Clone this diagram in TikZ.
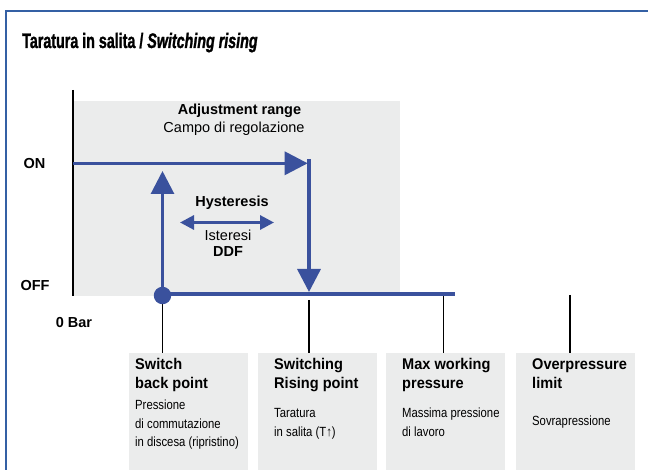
\documentclass[tikz,border=0pt]{standalone}
\usepackage{fontspec}
\setmainfont{Liberation Sans}
\newfontfamily\titlefont[FakeStretch=0.68,FakeBold=1.2,ItalicFont={Liberation Sans Bold Italic}]{Liberation Sans Bold}
\newfontfamily\headfont[FakeStretch=0.94]{Liberation Sans}
\newfontfamily\condfont[FakeStretch=0.85]{Liberation Sans}
\usetikzlibrary{arrows.meta}
\definecolor{lineblue}{RGB}{58,81,157}
\definecolor{frameblue}{RGB}{52,96,164}
\definecolor{boxgray}{RGB}{235,236,236}
\tikzset{
  titletext/.style={anchor=base west, inner sep=0pt, font=\titlefont\fontsize{21}{25}\selectfont},
  chartbold/.style={anchor=base, inner sep=0pt, font=\bfseries\fontsize{14.5}{17}\selectfont},
  chartreg/.style={anchor=base, inner sep=0pt, font=\fontsize{14.5}{17}\selectfont},
  boxhead/.style={anchor=base west, inner sep=0pt, font=\headfont\bfseries\fontsize{15.5}{18}\selectfont},
  boxtext/.style={anchor=base west, inner sep=0pt, font=\condfont\fontsize{13.3}{16}\selectfont},
  infobox/.style={anchor=north west, fill=boxgray, draw=none, inner sep=0pt, minimum width=119pt, minimum height=117pt},
  bigline/.style={draw=lineblue, line width=3.3pt},
  bigtip/.style={-{Triangle[length=23pt,width=23pt]}},
  tick/.style={draw=black, line width=1.1pt},
}
\begin{document}
\begin{tikzpicture}[x=1pt,y=-1pt]
\useasboundingbox (0,0) rectangle (648,470);
% frame
\draw[frameblue, line width=2pt] (5.5,470) -- (5.5,11) -- (648,11);
% title
\node[titletext] (title) at (22,48) {Taratura in salita / \itshape Switching rising};
% adjustment range area
\fill[boxgray] (73,101) rectangle (400,296);
\draw[black, line width=1.2pt] (73,90) -- (73,296);
\node[chartbold] (adj) at (239.5,115) {Adjustment range};
\node[chartreg] (campo) at (234,133) {Campo di regolazione};
% axis labels
\node[chartbold] (on) at (34.5,168.3) {ON};
\node[chartbold] (off) at (35,291) {OFF};
\node[chartbold] (zero) at (74,327) {0 Bar};
% bottom boxes
\node[infobox] (b1) at (129,353) {};
\node[infobox] (b2) at (258,353) {};
\node[infobox] (b3) at (386,353) {};
\node[infobox] (b4) at (516,353) {};
% coordinates
\coordinate (on0) at (73,163.3);
\coordinate (onend) at (307.7,163.3);
\coordinate (vtop) at (309,159.5);
\coordinate (vend) at (309,292);
\coordinate (upend) at (162.5,171);
\coordinate (offend) at (455,294);
\coordinate (t2) at (309,300);
\coordinate (t3) at (443.5,294);
\coordinate (t4) at (570,295);
\coordinate (hl) at (180,222.5);
\coordinate (hr) at (274,222.5);
% ticks
\draw[tick] (162.5,296) -- (162.5,353);
\draw[tick] (t2) -- (t2 |- b2.north);
\draw[tick] (t3) -- (t3 |- b3.north);
\draw[tick] (t4) -- (t4 |- b4.north);
% blue curve
\draw[bigline] (162.5,294) -- (offend);
\draw[bigline, bigtip] (on0) -- (onend);
\draw[bigline, line width=3.5pt, bigtip] (vtop) -- (vend);
\node[circle, fill=lineblue, minimum size=17.5pt, inner sep=0pt] (dot) at (162.5,295.5) {};
\draw[bigline, line width=3pt, bigtip] (dot.center) -- (upend);
% hysteresis
\draw[draw=lineblue, line width=3pt, {Triangle[length=14pt,width=14pt]}-{Triangle[length=14pt,width=14pt]}] (hl) -- (hr);
\node[chartbold] (hyst) at (232,206.7) {Hysteresis};
\node[chartreg] (ist) at (228,240.7) {Isteresi};
\node[chartbold] (ddf) at (228,257) {DDF};
% box texts
\node[boxhead] (h1a) at (135,370) {Switch};
\node[boxhead] (h1b) at (135,388) {back point};
\node[boxtext] (p1a) at (135,409.5) {Pressione};
\node[boxtext] (p1b) at (135,428) {di commutazione};
\node[boxtext] (p1c) at (135,446.5) {in discesa (ripristino)};
\node[boxhead] (h2a) at (274,370) {Switching};
\node[boxhead] (h2b) at (274,388) {Rising point};
\node[boxtext] (p2a) at (274,417) {Taratura};
\node[boxtext] (p2b) at (274,436) {in salita (T↑)};
\node[boxhead] (h3a) at (402,370) {Max working};
\node[boxhead] (h3b) at (402,388) {pressure};
\node[boxtext] (p3a) at (402,417) {Massima pressione};
\node[boxtext] (p3b) at (402,436) {di lavoro};
\node[boxhead] (h4a) at (532,370) {Overpressure};
\node[boxhead] (h4b) at (532,388) {limit};
\node[boxtext] (p4a) at (532,425) {Sovrapressione};
\end{tikzpicture}
\end{document}
